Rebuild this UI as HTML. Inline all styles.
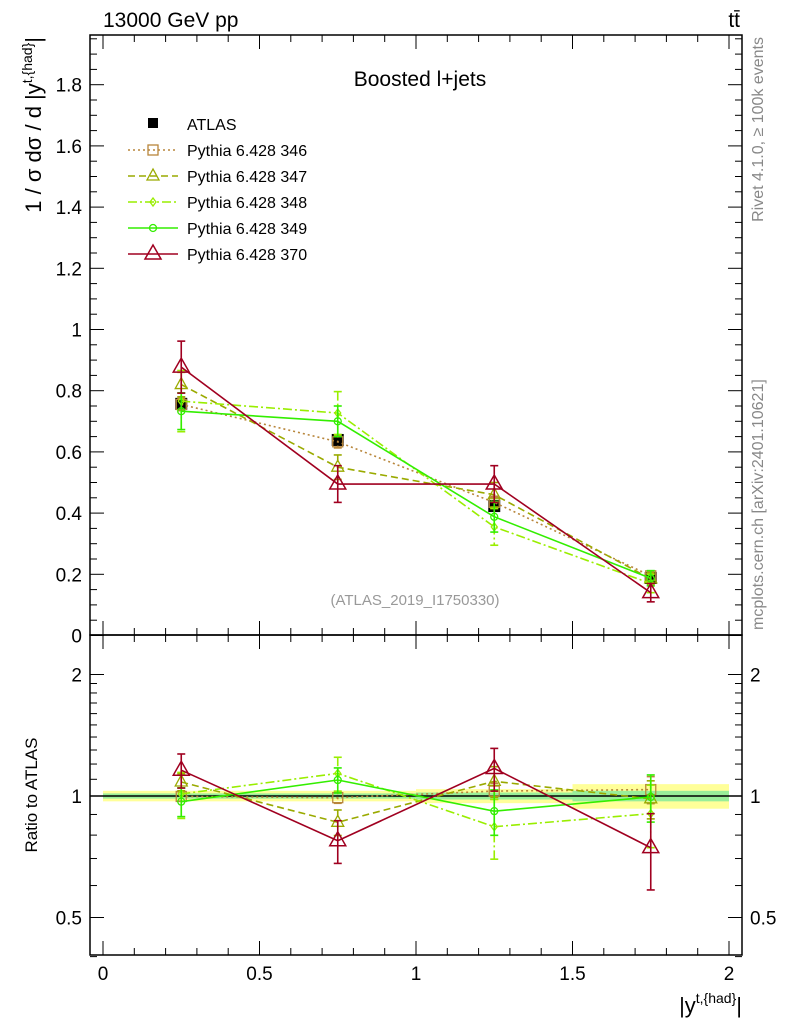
<!DOCTYPE html>
<html><head><meta charset="utf-8"><style>
body{margin:0;background:#fff;}
svg text{font-family:"Liberation Sans",sans-serif;}
</style></head><body>
<svg id="c" width="786" height="1024" xmlns="http://www.w3.org/2000/svg">
<rect width="786" height="1024" fill="#fff"/>
<g id="bands"></g>
<g id="grid"></g>
<g id="series"></g>
<rect x="90" y="35" width="652" height="600" fill="none" stroke="#000" stroke-width="1.5"/>
<rect x="90" y="635" width="652" height="320" fill="none" stroke="#000" stroke-width="1.5"/>
<text x="103" y="27" font-size="21">13000 GeV pp</text>
<text x="740" y="27" font-size="21" text-anchor="end">tt̄</text>
<text x="420" y="86" font-size="21" text-anchor="middle">Boosted l+jets</text>
<text x="415" y="605" font-size="15" fill="#999" text-anchor="middle">(ATLAS_2019_I1750330)</text>
<text transform="translate(41,37) rotate(-90)" font-size="22" text-anchor="end">1 / σ dσ / d |y<tspan font-size="14" dy="-9">t,{had}</tspan><tspan dy="9">|</tspan></text>
<text transform="translate(37,795) rotate(-90)" font-size="17" text-anchor="middle">Ratio to ATLAS</text>
<text x="742" y="1013" font-size="22" text-anchor="end">|y<tspan font-size="14" dy="-10">t,{had}</tspan><tspan dy="10">|</tspan></text>
<text transform="translate(763,37) rotate(-90)" font-size="16" fill="#888" text-anchor="end">Rivet 4.1.0, ≥ 100k events</text>
<text transform="translate(763,630) rotate(-90)" font-size="16" fill="#888" text-anchor="start">mcplots.cern.ch [arXiv:2401.10621]</text>
<g id="legend"></g>
</svg>
<script>
const NS="http://www.w3.org/2000/svg";
const binCenters=[0.25,0.75,1.25,1.75];
const atlasVals=[0.757,0.639,0.423,0.188];
const atlasErrs=[0.012,0.015,0.012,0.010];
const atlasTotRel=[0.03,0.03,0.04,0.07];
const atlasStatRel=[0.015,0.015,0.02,0.03];
const s346=[0.755,0.633,0.435,0.195];
const s347=[0.82,0.55,0.46,0.185];
const s348=[0.766,0.727,0.355,0.17];
const s349=[0.733,0.70,0.388,0.187];
const s370=[0.877,0.495,0.495,0.14];
const e346=[0.02,0.02,0.02,0.015];
const e347=[0.04,0.04,0.04,0.02];
const e348=[0.10,0.07,0.06,0.03];
const e349=[0.06,0.05,0.05,0.025];
const e370=[0.085,0.06,0.06,0.03];
const xTicks=[0,0.5,1,1.5,2];
const yTicks=[0,0.2,0.4,0.6,0.8,1,1.2,1.4,1.6,1.8];
const rTicks=[0.5,1,2];

const X=v=>103+v*313;
const Y=v=>635.5-v*306;
const R=r=>796-Math.log2(Math.max(r,0.3))*121.5;
const svg=document.getElementById('c');
function el(t,a,p){const e=document.createElementNS(NS,t);for(const k in a)e.setAttribute(k,a[k]);(p||svg).appendChild(e);return e;}
const grid=document.getElementById('grid');
for(let i=0;i<=20;i++){const v=i/10,x=X(v),maj=i%5==0;
 for(const [yb,yt] of [[635,35],[955,635]]){
  el('line',{x1:x,x2:x,y1:yb,y2:yb-(maj?14:7),stroke:'#000'},grid);
  el('line',{x1:x,x2:x,y1:yt,y2:yt+(maj?14:7),stroke:'#000'},grid);}
}
xTicks.forEach(v=>{const t=el('text',{x:X(v),y:980,'font-size':19,'text-anchor':'middle'},grid);t.textContent=v;

});
for(let i=0;i<=39;i++){const v=i*0.05,y=Y(v);if(y<35)break;const maj=i%4==0;
 el('line',{x1:90,x2:90+(maj?14:7),y1:y,y2:y,stroke:'#000'},grid);
 el('line',{x1:742,x2:742-(maj?14:7),y1:y,y2:y,stroke:'#000'},grid);}
yTicks.forEach(v=>{const t=el('text',{x:82,y:Y(v)+7,'font-size':19,'text-anchor':'end'},grid);t.textContent=v;

});
[0.4,0.5,0.6,0.7,0.8,0.9,1,1.1,1.2,1.3,1.4,1.5,1.6,1.7,1.8,1.9,2].forEach(r=>{const y=R(r);const maj=rTicks.includes(r);
 el('line',{x1:90,x2:90+(maj?14:7),y1:y,y2:y,stroke:'#000'},grid);
 el('line',{x1:742,x2:742-(maj?14:7),y1:y,y2:y,stroke:'#000'},grid);});
rTicks.forEach(r=>{let t=el('text',{x:82,y:R(r)+7,'font-size':19,'text-anchor':'end'},grid);t.textContent=r;


t=el('text',{x:750,y:R(r)+7,'font-size':19},grid);t.textContent=r;

});
const bands=document.getElementById('bands');
binCenters.forEach((c,i)=>{
 let b=el('rect',{x:X(c-0.25),width:313*0.5,y:R(1+atlasTotRel[i]),height:R(1-atlasTotRel[i])-R(1+atlasTotRel[i]),fill:'#ffff99'},bands);
 
 
 b=el('rect',{x:X(c-0.25),width:313*0.5,y:R(1+atlasStatRel[i]),height:R(1-atlasStatRel[i])-R(1+atlasStatRel[i]),fill:'#99ee99'},bands);
 
 
});
el('line',{x1:90,x2:742,y1:R(1),y2:R(1),stroke:'#000','stroke-width':1.5},bands);
const G=document.getElementById('series');
const series=[
 {n:'pythia-346',v:s346,e:e346,c:'#b8863b',d:'2,3',m:'sq',lab:'Pythia 6.428 346'},
 {n:'pythia-347',v:s347,e:e347,c:'#9aaa00',d:'7,4',m:'tri',lab:'Pythia 6.428 347'},
 {n:'pythia-348',v:s348,e:e348,c:'#99ee00',d:'9,3,2,3',m:'dia',lab:'Pythia 6.428 348'},
 {n:'pythia-349',v:s349,e:e349,c:'#33ee00',d:'',m:'circ',lab:'Pythia 6.428 349'},
 {n:'pythia-370',v:s370,e:e370,c:'#a00020',d:'',m:'bigtri',lab:'Pythia 6.428 370'}];
function marker(m,x,y,c,g){
 if(m=='sq')return el('rect',{x:x-5,y:y-5,width:10,height:10,fill:'none',stroke:c,'stroke-width':1.3},g);
 if(m=='tri')return el('polygon',{points:`${x},${y-7} ${x-6},${y+4} ${x+6},${y+4}`,fill:'none',stroke:c,'stroke-width':1.3},g);
 if(m=='dia')return el('polygon',{points:`${x},${y-4} ${x-3},${y} ${x},${y+4} ${x+3},${y}`,fill:'none',stroke:c,'stroke-width':1.3},g);
 if(m=='circ')return el('circle',{cx:x,cy:y,r:3.5,fill:'none',stroke:c,'stroke-width':1.3},g);
 return el('polygon',{points:`${x},${y-9} ${x-8},${y+5} ${x+8},${y+5}`,fill:'none',stroke:c,'stroke-width':1.5},g);
}
function drawSeries(s,yf,vals,errs,g){
 el('polyline',{points:binCenters.map((c,i)=>X(c)+','+yf(vals[i])).join(' '),fill:'none',stroke:s.c,'stroke-width':1.6,'stroke-dasharray':s.d},g);
 binCenters.forEach((c,i)=>{const x=X(c);const y1=yf(vals[i]+errs[i]),y2=yf(vals[i]-errs[i]);
  el('line',{x1:x,x2:x,y1:y1,y2:y2,stroke:s.c,'stroke-width':1.6,'stroke-dasharray':s.d},g);
  el('line',{x1:x-4,x2:x+4,y1:y1,y2:y1,stroke:s.c,'stroke-width':1.6},g);
  el('line',{x1:x-4,x2:x+4,y1:y2,y2:y2,stroke:s.c,'stroke-width':1.6},g);
  marker(s.m,x,yf(vals[i]),s.c,g);});
}
const ag=el('g',{},G);


binCenters.forEach((c,i)=>{const x=X(c);
 el('line',{x1:x,x2:x,y1:Y(atlasVals[i]+atlasErrs[i]),y2:Y(atlasVals[i]-atlasErrs[i]),stroke:'#000','stroke-width':1.5},ag);
 el('rect',{x:x-6,y:Y(atlasVals[i])-6,width:12,height:12,fill:'#000'},ag);});
series.forEach(s=>{
 const g=el('g',{},G);
 
 
 drawSeries(s,Y,s.v,s.e,g);
 const gr=el('g',{},G);
 
 
 drawSeries(s,R,s.v.map((v,i)=>v/atlasVals[i]),s.e.map((e,i)=>e/atlasVals[i]),gr);
});
const L=document.getElementById('legend');
let t=el('rect',{x:148,y:118,width:10,height:10,fill:'#000'},L);


t=el('text',{x:187,y:130,'font-size':16},L);t.textContent='ATLAS';


series.forEach((s,i)=>{const y=150+26*i;
 const g=el('g',{},L);
 
 
 el('line',{x1:128,x2:178,y1:y,y2:y,stroke:s.c,'stroke-width':1.6,'stroke-dasharray':s.d},g);
 marker(s.m,153,y,s.c,g);
 const tt=el('text',{x:187,y:y+6,'font-size':16},g);tt.textContent=s.lab;});
</script>
</body></html>
